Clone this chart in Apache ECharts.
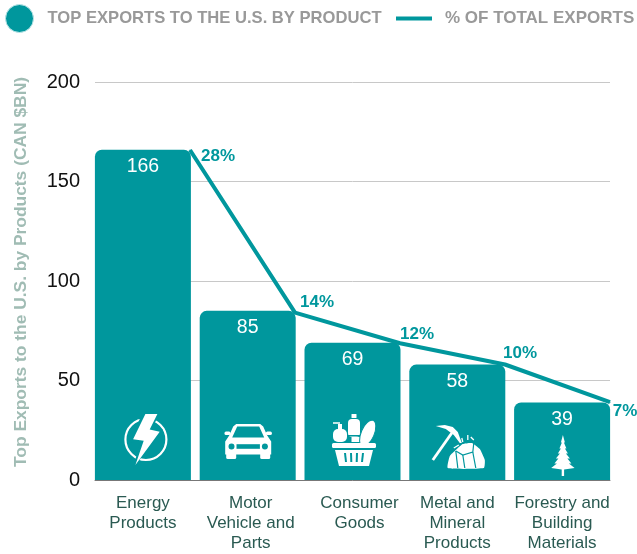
<!DOCTYPE html>
<html>
<head>
<meta charset="utf-8">
<style>
html,body{margin:0;padding:0;background:#fff;}
#main{width:637px;height:554px;}
</style>
<script src="https://cdn.jsdelivr.net/npm/echarts@6/dist/echarts.min.js"></script>
</head>
<body>
<div id="main"></div>
<script>
var categories = ['Energy\nProducts', 'Motor\nVehicle and\nParts', 'Consumer\nGoods', 'Metal and\nMineral\nProducts', 'Forestry and\nBuilding\nMaterials'];
var exportValues = [166, 85, 69, 58, 39];
var sharePercent = [28, 14.2, 11.6, 9.8, 6.6];
var yTicks = [0, 50, 100, 150, 200];

var barName = 'TOP EXPORTS TO THE U.S. BY PRODUCT';
var lineName = '% OF TOTAL EXPORTS';
var yTitle = 'Top Exports to the U.S. by Products (CAN $BN)';

var TEAL = '#00979d';
var WHITE = '#fff';

function stroke(type, shape, w, color) {
    return {type: type, shape: shape, style: {fill: 'none', stroke: color || WHITE, lineWidth: w}};
}
function poly(points, color, smooth) {
    return {type: 'polygon', shape: {points: points, smooth: smooth || 0}, style: {fill: color || WHITE}};
}
function box(x, y, w, h, r, color) {
    return {type: 'rect', shape: {x: x, y: y, width: w, height: h, r: r}, style: {fill: color || WHITE}};
}
function dot(x, y, r, color) {
    return {type: 'circle', shape: {cx: x, cy: y, r: r}, style: {fill: color || WHITE}};
}

// icons are drawn around (0,0), one function per category
var icons = [
    function () { // bolt in a ring
        return [
            stroke('circle', {cx: 0, cy: 0, r: 20.5}, 2.2),
            poly([[-3, -28], [14, -28], [7, -12], [17, -10], [-13, 29], [-6, 4], [-16, 3]], TEAL),
            poly([[-0.5, -25.5], [11.5, -25.5], [3.8, -10], [13.8, -7.8], [-10.5, 25.5], [-2.2, 1.2], [-12.8, -0.2]])
        ];
    },
    function () { // car
        return [
            poly([[-12, -17.5], [12, -17.5], [15, -15], [19, -6], [23, 0], [23, 13], [-23, 13], [-23, 0], [-19, -6], [-15, -15]]),
            box(-23.7, -10, 6, 3.5, 1.5),
            box(17.7, -10, 6, 3.5, 1.5),
            box(-22, 10, 10, 7.6, 1.5),
            box(12, 10, 10, 7.6, 1.5),
            poly([[-11, -15], [11, -15], [16, -4], [-16, -4]], TEAL),
            dot(-16.7, 5, 3, TEAL),
            dot(16.7, 5, 3, TEAL),
            box(-11.7, 2.7, 23.4, 4.6, 0, TEAL)
        ];
    },
    function () { // grocery basket
        return [
            box(-2.5, -26, 5, 4, 0.5),
            box(-6, -21, 12, 18, 4),
            box(-6.5, -5, 13, 1.5, 0, TEAL),
            box(-2.5, -3, 9, 5, 0),
            box(-21, -11, 14, 13, 5),
            box(-16, -16, 4, 6, 0),
            stroke('line', {x1: -21, y1: -17, x2: -14, y2: -17}, 1.5),
            {type: 'ellipse', shape: {cx: 0, cy: 0, rx: 6.5, ry: 14}, x: 13.7, y: -6.7, rotation: -0.4, style: {fill: WHITE, stroke: TEAL, lineWidth: 1}},
            box(-22, 3, 44, 5, 1.5),
            poly([[-19, 10], [19, 10], [15, 26], [-15, 26]]),
            stroke('line', {x1: -9, y1: 13, x2: -8, y2: 22}, 2, TEAL),
            stroke('line', {x1: -3, y1: 13, x2: -2.7, y2: 22}, 2, TEAL),
            stroke('line', {x1: 3, y1: 13, x2: 2.7, y2: 22}, 2, TEAL),
            stroke('line', {x1: 9, y1: 13, x2: 8, y2: 22}, 2, TEAL)
        ];
    },
    function () { // pickaxe and rocks
        return [
            stroke('line', {x1: -25, y1: 14, x2: -6, y2: -13}, 2.8),
            poly([[-22, -20], [-13, -21], [-5, -19], [0, -14], [4, -3], [2, -3], [-4, -11], [-12, -17]]),
            poly([[-10, 22], [-8, 10], [-2, 4], [5, -2], [14, -3], [22, 3], [27, 14], [26, 22]], WHITE, 0.15),
            stroke('polyline', {points: [[-2, 5], [5, 9], [15, 6], [16, -3]]}, 1.2, TEAL),
            stroke('line', {x1: -2, y1: 5, x2: 0, y2: 22}, 1.2, TEAL),
            stroke('line', {x1: 5, y1: 9, x2: 7, y2: 22}, 1.2, TEAL),
            stroke('line', {x1: 15, y1: 6, x2: 18, y2: 22}, 1.2, TEAL),
            stroke('line', {x1: -4, y1: 2, x2: 1, y2: -1}, 1.3),
            stroke('line', {x1: 4, y1: -8, x2: 5, y2: -4}, 1.3),
            stroke('line', {x1: 10, y1: -11, x2: 10, y2: -6}, 1.3),
            stroke('line', {x1: 13, y1: -9, x2: 16, y2: -6}, 1.3)
        ];
    },
    function () { // spruce
        return [
            poly([[0, -20.5], [2, -13], [1, -13], [3.5, -7], [2, -7], [5, -2], [3, -2], [7, 3], [4.5, 3], [8.5, 8], [6, 8], [11.7, 12.5], [1.2, 14], [1.2, 20.5], [-1.2, 20.5], [-1.2, 14], [-11.7, 12.5], [-6, 8], [-8.5, 8], [-4.5, 3], [-7, 3], [-3, -2], [-5, -2], [-2, -7], [-3.5, -7], [-1, -13], [-2, -13]])
        ];
    }
];
var iconCentres = [[3, 40.5], [0.5, 38.5], [1.5, 40], [0.5, 34], [0.8, 24.5]];
var labelNudge = [[28, 7], [22, -9], [17, -8], [15, -10], [15, 10]];
// the reference's x labels are not all centred under their bars
var xLabelPad = [0, 6, 14, 0, 0];

var xLabelRich = {};
xLabelPad.forEach(function (pad) {
    xLabelRich['p' + pad] = {color: '#2a5a52', fontSize: 17, lineHeight: 20, padding: [0, 0, 0, pad]};
});

var option = {
    animation: false,
    textStyle: {fontFamily: '"Liberation Sans", Arial, sans-serif'},
    legend: [
        {
            data: [barName],
            left: 5, top: 4, padding: 0,
            icon: 'circle',
            itemWidth: 28, itemHeight: 28, itemGap: 0,
            itemStyle: {borderColor: '#bfe6e8', borderWidth: 1},
            textStyle: {color: '#999', fontSize: 16.6, fontWeight: 'bold', padding: [0, 0, 4, 9]}
        },
        {
            data: [lineName],
            left: 396, top: 10, padding: 0,
            icon: 'rect',
            itemWidth: 36, itemHeight: 4, itemGap: 0,
            textStyle: {color: '#999', fontSize: 17, fontWeight: 'bold', padding: [0, 0, 0, 8]}
        }
    ],
    grid: [
        {left: 95, width: 515, top: 82, height: 398, outerBoundsMode: 'none'},   // gridlines and y ticks
        {left: 90.5, width: 524, top: 82, height: 398, outerBoundsMode: 'none'}, // bars
        {left: 190, width: 420, top: 82, height: 398, outerBoundsMode: 'none'}   // share line, points at the bars' right edges
    ],
    xAxis: [
        {
            type: 'category',
            data: categories,
            axisTick: {show: false},
            axisLabel: {show: false},
            axisLine: {lineStyle: {color: '#777', width: 1}}
        },
        {
            type: 'category',
            gridIndex: 1,
            data: categories,
            axisTick: {show: false},
            axisLine: {show: false},
            axisLabel: {
                margin: 13,
                interval: 0,
                rich: xLabelRich,
                formatter: function (value, i) {
                    return value.split('\n').map(function (line) {
                        return '{p' + xLabelPad[i] + '|' + line + '}';
                    }).join('\n');
                }
            }
        },
        {
            type: 'category',
            gridIndex: 2,
            data: categories,
            boundaryGap: false,
            show: false
        }
    ],
    yAxis: [
        {
            type: 'value',
            min: yTicks[0], max: yTicks[4], interval: yTicks[1],
            name: yTitle,
            nameLocation: 'middle',
            nameGap: 65,
            nameTextStyle: {color: '#a0bcb4', fontSize: 17.4, fontWeight: 'bold', padding: [0, 0, 0, 18]},
            axisLine: {show: false},
            axisTick: {show: false},
            axisLabel: {color: '#111', fontSize: 20, margin: 15},
            splitLine: {lineStyle: {color: '#c8c8c8', width: 1}}
        },
        {
            type: 'value',
            gridIndex: 1,
            min: yTicks[0], max: yTicks[4],
            show: false
        },
        {
            type: 'value',
            gridIndex: 2,
            min: 0, max: 33.77,
            show: false
        }
    ],
    series: [
        {
            name: barName,
            type: 'bar',
            xAxisIndex: 1,
            yAxisIndex: 1,
            data: exportValues,
            barWidth: 96,
            itemStyle: {color: TEAL, borderRadius: [7, 7, 0, 0]},
            label: {show: true, position: 'insideTop', distance: 7, color: '#fff', fontSize: 19.5}
        },
        {
            name: lineName,
            type: 'line',
            xAxisIndex: 2,
            yAxisIndex: 2,
            clip: false,
            symbol: 'none',
            z: 5,
            lineStyle: {color: TEAL, width: 4},
            itemStyle: {color: TEAL},
            data: sharePercent.map(function (v, i) {
                return {
                    value: v,
                    // every share label has its own spot next to its point
                    label: {offset: [labelNudge[i][0], labelNudge[i][1] + 8]},
                    symbol: 'circle',
                    symbolSize: 1
                };
            }),
            label: {
                show: true,
                position: 'top',
                distance: 0,
                color: TEAL,
                fontSize: 17,
                fontWeight: 'bold',
                formatter: function (p) { return Math.round(p.value) + '%'; }
            }
        },
        {
            // icons sit on the bars, centred on each category
            type: 'custom',
            xAxisIndex: 1,
            yAxisIndex: 1,
            data: exportValues,
            z: 7,
            silent: true,
            renderItem: function (params, api) {
                var p = api.coord([params.dataIndex, 0]);
                var c = iconCentres[params.dataIndex];
                return {
                    type: 'group',
                    x: p[0] + c[0],
                    y: p[1] - c[1],
                    children: icons[params.dataIndex]()
                };
            }
        }
    ]
};

var myChart = echarts.init(document.getElementById('main'));
myChart.setOption(option);
</script>
</body>
</html>
